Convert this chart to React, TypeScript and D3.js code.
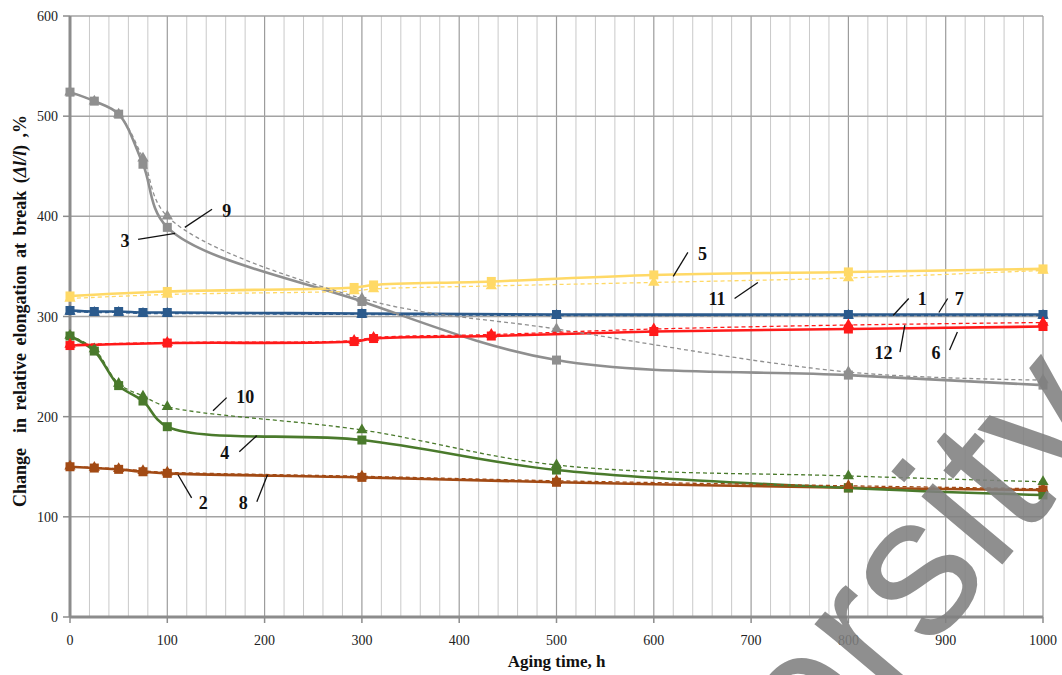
import React from "react";
import * as d3 from "d3";

// aging time (h) for the two sampling schedules
const timesA = [0, 25, 50, 75, 100, 300, 500, 800, 1000];
const timesB = [0, 100, 292, 312, 433, 600, 800, 1000];

// solid curves 1-6
const s1 = [306, 305, 305, 304, 304, 303, 302, 302, 302];
const s2 = [150, 148.7, 147.4, 145, 143.4, 139.4, 134.5, 129, 126.8];
const s3 = [524, 515, 502, 452, 389, 315, 256.5, 241.5, 231.5];
const s4 = [280.5, 265.5, 231, 215.6, 190, 176.7, 146.7, 128.8, 121.8];
const s5 = [320.5, 325, 329, 331.5, 335, 341.5, 344.5, 347.5];
const s6 = [271, 273.5, 275, 278, 280.5, 285, 287.5, 290];

// dashed curves 7-12
const s7 = [305, 304, 304, 303, 303, 302, 301, 301, 301];
const s8 = [150.5, 149.2, 148, 146, 144.5, 140.5, 136, 131, 128];
const s9 = [524, 515, 502, 458, 400, 318, 287.5, 244.5, 236.5];
const s10 = [281, 267.5, 233, 220.5, 210, 186.7, 151.7, 140.8, 135];
const s11 = [318, 322, 325.5, 327.5, 330.5, 334, 338.5, 346];
const s12 = [272, 274, 276, 279, 282, 287.5, 291.5, 294];

const xTicks = [0, 100, 200, 300, 400, 500, 600, 700, 800, 900, 1000];
const yTicks = [0, 100, 200, 300, 400, 500, 600];

// curve number labels: label centre and leader line, in data units
const notes = [
  { t: "9", lx: 161, ly: 406, x1: 146, y1: 407, x2: 118, y2: 389 },
  { t: "3", lx: 56.5, ly: 376, x1: 70, y1: 377, x2: 108, y2: 383 },
  { t: "10", lx: 180, ly: 220, x1: 161, y1: 219, x2: 147, y2: 206 },
  { t: "4", lx: 159, ly: 164, x1: 174, y1: 165, x2: 192, y2: 181 },
  { t: "2", lx: 137, ly: 114, x1: 125, y1: 119, x2: 111, y2: 142 },
  { t: "8", lx: 178, ly: 114, x1: 192, y1: 115, x2: 203, y2: 142 },
  { t: "5", lx: 650, ly: 363, x1: 635, y1: 364, x2: 620, y2: 340 },
  { t: "11", lx: 665, ly: 318, x1: 683, y1: 318, x2: 707, y2: 334 },
  { t: "1", lx: 876, ly: 318, x1: 862, y1: 318, x2: 846, y2: 301 },
  { t: "7", lx: 914, ly: 318, x1: 902, y1: 318, x2: 893, y2: 304 },
  { t: "12", lx: 836, ly: 263.5, x1: 853, y1: 264.5, x2: 858, y2: 291.5 },
  { t: "6", lx: 890, ly: 263.5, x1: 904, y1: 266.5, x2: 912, y2: 284.5 },
];

const W = 1062;
const H = 675;
const serif = "'Times New Roman', 'Liberation Serif', 'DejaVu Serif', serif";

const x = d3.scaleLinear().domain([0, 1000]).range([70, 1043]);
const y = d3.scaleLinear().domain([0, 600]).range([617, 16]);

const line = d3
  .line<[number, number]>()
  .x((d) => x(d[0]))
  .y((d) => y(d[1]))
  .curve(d3.curveCatmullRom.alpha(0.5));

const zip = (ts: number[], vs: number[]) => ts.map((t, i) => [t, vs[i]] as [number, number]);

const solid = [
  { pts: zip(timesA, s1), c: "#2b5a8c" },
  { pts: zip(timesA, s2), c: "#a24a14" },
  { pts: zip(timesA, s3), c: "#8f8f8f" },
  { pts: zip(timesA, s4), c: "#4a7a2c" },
  { pts: zip(timesB, s5), c: "#ffd966" },
  { pts: zip(timesB, s6), c: "#ff1a1a" },
];
const dashed = [
  { pts: zip(timesA, s7), c: "#2b5a8c" },
  { pts: zip(timesA, s8), c: "#a24a14" },
  { pts: zip(timesA, s9), c: "#8f8f8f" },
  { pts: zip(timesA, s10), c: "#4a7a2c" },
  { pts: zip(timesB, s11), c: "#ffd966" },
  { pts: zip(timesB, s12), c: "#ff1a1a" },
];

const tri = d3.symbol().type(d3.symbolTriangle).size(55)() as string;

export default function App() {
  const minor = d3.range(20, 1001, 20).filter((v) => v % 100 !== 0);
  return (
    <svg width={W} height={H} style={{ position: "absolute", left: 0, top: 0, background: "#fff" }}>
      {/* grid */}
      {minor.map((v) => (
        <line key={"m" + v} x1={x(v)} x2={x(v)} y1={y(600)} y2={y(0)} stroke="#c9c9c9" strokeWidth={1} />
      ))}
      {xTicks.slice(1).map((v) => (
        <line key={"M" + v} x1={x(v)} x2={x(v)} y1={y(600)} y2={y(0)} stroke="#9c9c9c" strokeWidth={1.2} />
      ))}
      {yTicks.slice(1).map((v) => (
        <line key={"h" + v} x1={x(0)} x2={x(1000)} y1={y(v)} y2={y(v)} stroke="#a3a3a3" strokeWidth={1.5} />
      ))}

      {/* axes */}
      <line x1={x(0)} x2={x(0)} y1={y(600)} y2={y(0)} stroke="#8c8c8c" strokeWidth={3} />
      <line x1={x(0)} x2={x(1000)} y1={y(0)} y2={y(0)} stroke="#8c8c8c" strokeWidth={3} />
      {yTicks.map((v) => (
        <g key={"yt" + v}>
          <line x1={x(0) - 7} x2={x(0)} y1={y(v)} y2={y(v)} stroke="#8c8c8c" strokeWidth={1.5} />
          <text x={58} y={y(v) + 5} textAnchor="end" fontFamily={serif} fontSize={14} fill="#222">
            {v}
          </text>
        </g>
      ))}
      {xTicks.map((v) => (
        <g key={"xt" + v}>
          <line x1={x(v)} x2={x(v)} y1={y(0)} y2={y(0) + 6} stroke="#8c8c8c" strokeWidth={1.5} />
          <text x={x(v)} y={645} textAnchor="middle" fontFamily={serif} fontSize={14} fill="#222">
            {v}
          </text>
        </g>
      ))}

      {/* solid series with squares */}
      {solid.map((s, i) => (
        <g key={"s" + i}>
          <path d={line(s.pts) as string} fill="none" stroke={s.c} strokeWidth={2.6} />
          {s.pts.map((p, j) => (
            <rect key={j} x={x(p[0]) - 4.5} y={y(p[1]) - 4.5} width={9} height={9} fill={s.c} />
          ))}
        </g>
      ))}
      {/* dashed series with triangles */}
      {dashed.map((s, i) => (
        <g key={"d" + i}>
          <path d={line(s.pts) as string} fill="none" stroke={s.c} strokeWidth={1.3} strokeDasharray="4,3" />
          {s.pts.map((p, j) => (
            <path key={j} d={tri} transform={`translate(${x(p[0])},${y(p[1])})`} fill={s.c} />
          ))}
        </g>
      ))}

      {/* curve labels */}
      {notes.map((n) => (
        <g key={n.t}>
          <line x1={x(n.x1)} y1={y(n.y1)} x2={x(n.x2)} y2={y(n.y2)} stroke="#111" strokeWidth={1.3} />
          <text
            x={x(n.lx)}
            y={y(n.ly)}
            dy="0.35em"
            textAnchor="middle"
            fontFamily={serif}
            fontWeight="bold"
            fontSize={18}
            fill="#111"
          >
            {n.t}
          </text>
        </g>
      ))}

      {/* axis titles */}
      <text x={x(500)} y={667} textAnchor="middle" fontFamily={serif} fontWeight="bold" fontSize={17} fill="#111">
        Aging time, h
      </text>
      <text
        transform={`translate(26,${311}) rotate(-90)`}
        textAnchor="middle"
        fontFamily={serif}
        fontWeight="bold"
        fontSize={18}
        wordSpacing={3}
        fill="#111"
        style={{ whiteSpace: "pre" }}
      >
        Change  in relative elongation at break (<tspan fontStyle="italic">Δl/l</tspan>) ,%
      </text>

      {/* watermark */}
      <text
        transform={`translate(558,1094) rotate(-50)`}
        fontFamily="'Liberation Sans', Arial, sans-serif"
        fontSize={200}
        fill="#808080"
        fillOpacity={0.88}
      >
        University
      </text>
    </svg>
  );
}
